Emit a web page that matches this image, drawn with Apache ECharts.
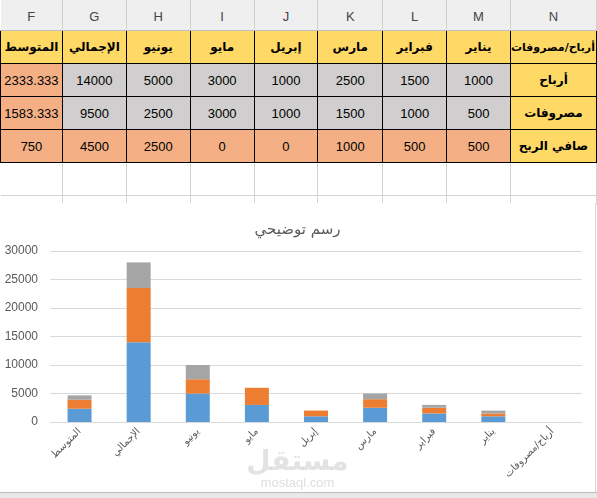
<!DOCTYPE html>
<html>
<head>
<meta charset="utf-8">
<script src="https://cdn.jsdelivr.net/npm/echarts@6/dist/echarts.min.js"></script>
<style>
  html, body { margin: 0; padding: 0; background: #fff; width: 597px; height: 498px; overflow: hidden; }
  body { position: relative; font-family: "Liberation Sans", "DejaVu Sans", sans-serif; }
  #sheet { position: absolute; left: 0; top: 0; border-collapse: collapse; table-layout: fixed; }
  #sheet td { padding: 0; text-align: center; overflow: hidden; white-space: nowrap; font-size: 13px; color: #000; }
  #sheet tr.letters td { height: 27px; background: #efefef; color: #444; font-size: 13px; border-right: 1px solid #cfcfcf; border-bottom: 1px solid #bdbdbd; padding-top: 3px; }
  #sheet tr.data td { height: 32px; border: 1px solid #000; }
  #sheet tr.blank td { height: 32px; border-right: 1px solid #d4d4d4; border-bottom: 1px solid #d4d4d4; }
  #sheet tr.blank2 td { height: 9px; border-right: 1px solid #d4d4d4; }
  #sheet td.ar { font-weight: bold; font-family: "DejaVu Sans", sans-serif; font-size: 12px; }
  #sheet td.narrow { font-size: 11px; letter-spacing: -0.2px; text-align: left; }
  #chart { position: absolute; left: 0; top: 203px; width: 595px; height: 289px; border-right: 1px solid #d9d9d9; background: #fff; }
  #statusbar { position: absolute; left: 0; top: 492px; width: 597px; height: 6px; background: #e8e8e8; border-top: 1px solid #bdbdbd; }
</style>
</head>
<body>
<table id="sheet"></table>
<div id="chart"></div>
<div id="statusbar"></div>
<script>
// spreadsheet columns, shown left to right as in the sheet
const colLetters = ['F', 'G', 'H', 'I', 'J', 'K', 'L', 'M', 'N'];
const colWidths = [62, 64, 64, 64, 64, 65, 64, 64, 86];
const categories = ['المتوسط', 'الإجمالي', 'يونيو', 'مايو', 'إبريل', 'مارس', 'فبراير', 'يناير', 'أرباح/مصروفات'];
const rowLabels = ['أرباح', 'مصروفات', 'صافي الربح'];
const profits = [2333.333, 14000, 5000, 3000, 1000, 2500, 1500, 1000];
const expenses = [1583.333, 9500, 2500, 3000, 1000, 1500, 1000, 500];
const netProfit = [750, 4500, 2500, 0, 0, 1000, 500, 500];
const yTicks = [0, 5000, 10000, 15000, 20000, 25000, 30000];

const YELLOW = '#ffd966';
const GREY = '#d0cece';
const ORANGE = '#f4b084';

// build the sheet
const table = document.getElementById('sheet');
let html = '<colgroup>' + colWidths.map((w) => '<col style="width:' + w + 'px">').join('') + '</colgroup>';
html += '<tr class="letters">' + colLetters.map((l) => '<td>' + l + '</td>').join('') + '</tr>';
html += '<tr class="data">' + categories.map((c, i) =>
  '<td class="ar' + (i === categories.length - 1 ? ' narrow' : '') + '" style="background:' + YELLOW + '">' + c + '</td>').join('') + '</tr>';
[profits, expenses, netProfit].forEach((vals, r) => {
  html += '<tr class="data">';
  vals.forEach((v, i) => {
    let bg = GREY;
    if (i === 0 || r === 2) bg = ORANGE;
    html += '<td style="background:' + bg + '">' + v + '</td>';
  });
  html += '<td class="ar" style="background:' + YELLOW + '">' + rowLabels[r] + '</td></tr>';
});
html += '<tr class="blank">' + colLetters.map(() => '<td></td>').join('') + '</tr>';
html += '<tr class="blank2">' + colLetters.map(() => '<td></td>').join('') + '</tr>';
table.innerHTML = html;

// chart
const chart = echarts.init(document.getElementById('chart'));
const pad = (arr) => arr.concat([null]);

chart.setOption({
  animation: false,
  backgroundColor: '#fff',
  title: {
    text: 'رسم توضيحي',
    left: 'center',
    top: 15,
    textStyle: { color: '#595959', fontSize: 15, fontWeight: 'normal', fontFamily: 'DejaVu Sans' },
  },
  grid: { left: 50, right: 13, top: 48, bottom: 70 },
  xAxis: {
    type: 'category',
    data: categories,
    axisLine: { lineStyle: { color: '#d9d9d9' } },
    axisTick: { show: false },
    axisLabel: { rotate: 45, color: '#595959', fontSize: 10, fontFamily: 'DejaVu Sans', margin: 8, interval: 0 },
  },
  yAxis: {
    type: 'value',
    min: yTicks[0],
    max: yTicks[yTicks.length - 1],
    interval: 5000,
    axisLine: { show: false },
    axisTick: { show: false },
    axisLabel: { color: '#595959', fontSize: 12, fontFamily: 'Liberation Sans', margin: 12, formatter: (v) => String(v) },
    splitLine: { lineStyle: { color: '#d9d9d9' } },
  },
  series: [
    { name: rowLabels[0], type: 'bar', stack: 'all', data: pad(profits), barWidth: 24, itemStyle: { color: '#5b9bd5' } },
    { name: rowLabels[1], type: 'bar', stack: 'all', data: pad(expenses), barWidth: 24, itemStyle: { color: '#ed7d31' } },
    { name: rowLabels[2], type: 'bar', stack: 'all', data: pad(netProfit), barWidth: 24, itemStyle: { color: '#a5a5a5' } },
  ],
  graphic: [
    {
      type: 'text', left: 'center', top: 246, z: 100,
      style: { text: 'مستقل', fill: 'rgba(200,200,200,0.5)', font: 'bold 28px "DejaVu Sans"' },
    },
    {
      type: 'text', left: 'center', top: 274, z: 100,
      style: { text: 'mostaql.com', fill: 'rgba(200,200,200,0.6)', font: '13px "Liberation Sans"' },
    },
  ],
});
</script>
</body>
</html>
